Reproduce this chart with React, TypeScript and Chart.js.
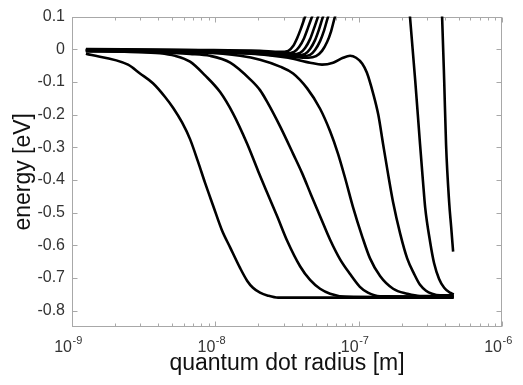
import React, { useEffect, useRef } from "react";
import { Chart, registerables } from "chart.js";

Chart.register(...registerables);

// radius values in nm, energies in eV
const level1Radius = [1.25, 2.46, 2.98, 3.67, 4.46, 5.07, 5.86, 6.66, 7.57, 8.48, 9.64, 11.1, 12.7, 14.9, 16.7, 18.3, 20.5, 23.3, 27.4, 460];
const level1Energy = [-0.014, -0.047, -0.074, -0.104, -0.146, -0.179, -0.224, -0.275, -0.344, -0.409, -0.478, -0.553, -0.607, -0.67, -0.709, -0.73, -0.745, -0.754, -0.76, -0.76];

const level2Radius = [1.25, 2.54, 4.11, 5.23, 6.66, 8.48, 10.8, 13.3, 16.7, 19.9, 23.0, 27.0, 31.7, 39.0, 45.8, 53.8, 63.2, 80.4, 460];
const level2Energy = [-0.005, -0.008, -0.012, -0.02, -0.038, -0.08, -0.131, -0.197, -0.29, -0.373, -0.439, -0.511, -0.586, -0.664, -0.706, -0.733, -0.748, -0.757, -0.759];

const level3Radius = [1.25, 3.5, 6.66, 9.18, 12.7, 17.5, 20.5, 23.0, 28.3, 34.9, 40.3, 46.5, 53.8, 63.2, 74.2, 87.1, 102, 116, 141, 460];
const level3Energy = [-0.003, -0.008, -0.014, -0.02, -0.041, -0.092, -0.125, -0.161, -0.236, -0.32, -0.379, -0.445, -0.511, -0.583, -0.643, -0.688, -0.727, -0.745, -0.756, -0.757];

const level4Radius = [1.25, 3.5, 7.82, 14.9, 20.5, 28.3, 34.9, 43.6, 53.8, 63.2, 71.8, 80.4, 91.4, 106, 120, 141, 174, 218, 268, 460];
const level4Energy = [-0.002, -0.005, -0.009, -0.02, -0.032, -0.053, -0.074, -0.119, -0.182, -0.251, -0.32, -0.394, -0.484, -0.574, -0.64, -0.694, -0.733, -0.748, -0.755, -0.755];

const level5Radius = [1.25, 3.5, 7.82, 18.9, 32.2, 45.8, 55.5, 66.3, 77.8, 87.1, 95.9, 106, 114, 126, 137, 148, 160, 174, 195, 218, 244, 268, 295, 325, 370, 460];
const level5Energy = [-0.002, -0.005, -0.008, -0.014, -0.026, -0.041, -0.047, -0.041, -0.026, -0.02, -0.026, -0.044, -0.071, -0.134, -0.2, -0.29, -0.379, -0.469, -0.565, -0.64, -0.688, -0.721, -0.739, -0.748, -0.753, -0.753];

const level6Radius = [221, 228, 248, 268, 281, 291, 315, 336, 364, 395, 434, 460];
const level6Energy = [0.16, 0.1, -0.095, -0.29, -0.404, -0.484, -0.589, -0.655, -0.703, -0.73, -0.745, -0.751];

const level7Radius = [376, 382, 395, 407, 428, 442, 456];
const level7Energy = [0.16, 0.1, -0.095, -0.29, -0.469, -0.544, -0.619];

const rising1Radius = [1.25, 7.82, 20.5, 28.3, 32.2, 34.9, 37.2, 39.6, 42.3, 44.4];
const rising1Energy = [0.001, -0.002, -0.005, -0.008, -0.005, 0.01, 0.034, 0.064, 0.1, 0.124];
const rising2Radius = [1.25, 7.82, 20.5, 31.1, 35.4, 38.4, 41.6, 44.4, 47.3, 49.6];
const rising2Energy = [0.0, -0.003, -0.008, -0.012, -0.008, 0.007, 0.034, 0.067, 0.1, 0.124];
const rising3Radius = [1.25, 7.82, 20.5, 34.3, 39.0, 42.3, 45.8, 48.8, 52.1, 54.7];
const rising3Energy = [-0.002, -0.005, -0.009, -0.015, -0.011, 0.004, 0.031, 0.064, 0.1, 0.124];
const rising4Radius = [1.25, 7.82, 20.5, 37.2, 42.3, 45.8, 49.6, 52.9, 56.4, 59.2];
const rising4Energy = [-0.003, -0.006, -0.011, -0.018, -0.014, 0.001, 0.028, 0.061, 0.1, 0.124];
const rising5Radius = [1.25, 7.82, 20.5, 40.3, 45.8, 49.6, 53.8, 57.4, 61.2, 64.2];
const rising5Energy = [-0.005, -0.008, -0.012, -0.021, -0.017, -0.002, 0.025, 0.058, 0.1, 0.124];
const rising6Radius = [1.25, 7.82, 20.5, 44.4, 50.4, 55.5, 60.2, 64.2, 68.4, 71.8];
const rising6Energy = [-0.006, -0.009, -0.014, -0.026, -0.021, -0.005, 0.022, 0.055, 0.1, 0.124];

const xTickValues = [1e-9, 1e-8, 1e-7, 1e-6];
const xTickBase = "10";
const xTickExponents = ["-9", "-8", "-7", "-6"];
const yTickValues = [0.1, 0, -0.1, -0.2, -0.3, -0.4, -0.5, -0.6, -0.7, -0.8];
const xTitle = "quantum dot radius [m]";
const yTitle = "energy [eV]";

const seriesList: [number[], number[]][] = [
  [level1Radius, level1Energy],
  [level2Radius, level2Energy],
  [level3Radius, level3Energy],
  [level4Radius, level4Energy],
  [level5Radius, level5Energy],
  [level6Radius, level6Energy],
  [level7Radius, level7Energy],
  [rising1Radius, rising1Energy],
  [rising2Radius, rising2Energy],
  [rising3Radius, rising3Energy],
  [rising4Radius, rising4Energy],
  [rising5Radius, rising5Energy],
  [rising6Radius, rising6Energy],
];

const FONT = "'Liberation Sans', Arial, sans-serif";

const framePlugin = {
  id: "matlabFrame",
  beforeDatasetsDraw(chart: any) {
    const { ctx, chartArea: a, scales } = chart;
    const xs = scales.x;
    const ys = scales.y;
    const L = Math.round(a.left) + 0.5;
    const R = Math.round(a.right) - 0.5;
    const T = Math.round(a.top) + 0.5;
    const B = Math.round(a.bottom) - 0.5;
    ctx.save();
    ctx.strokeStyle = "#a8a8a8";
    ctx.lineWidth = 1;
    ctx.strokeRect(L, T, R - L, B - T);
    ctx.beginPath();
    yTickValues.forEach((v) => {
      const py = Math.round(ys.getPixelForValue(v)) + 0.5;
      ctx.moveTo(L, py);
      ctx.lineTo(L + 5, py);
      ctx.moveTo(R, py);
      ctx.lineTo(R - 5, py);
    });
    for (let d = 0; d < xTickValues.length; d++) {
      const base = xTickValues[d];
      const px = Math.round(xs.getPixelForValue(base)) + 0.5;
      ctx.moveTo(px, B);
      ctx.lineTo(px, B - 5);
      ctx.moveTo(px, T);
      ctx.lineTo(px, T + 5);
      if (d < xTickValues.length - 1) {
        for (let k = 2; k <= 9; k++) {
          const mx = Math.round(xs.getPixelForValue(base * k)) + 0.5;
          ctx.moveTo(mx, B);
          ctx.lineTo(mx, B - 3);
          ctx.moveTo(mx, T);
          ctx.lineTo(mx, T + 3);
        }
      }
    }
    ctx.stroke();

    ctx.fillStyle = "#333333";
    ctx.textBaseline = "alphabetic";
    xTickValues.forEach((v, i) => {
      const px = xs.getPixelForValue(v);
      ctx.font = `16px ${FONT}`;
      ctx.textAlign = "right";
      ctx.fillText(xTickBase, px, 352);
      ctx.font = `11px ${FONT}`;
      ctx.textAlign = "left";
      ctx.fillText(xTickExponents[i], px + 0.5, 344);
    });
    ctx.restore();
  },
};

export default function App() {
  const ref = useRef<HTMLCanvasElement>(null);
  useEffect(() => {
    const canvas = ref.current;
    if (!canvas) return;
    const datasets = seriesList.map(([r, e], i) => ({
      label: `level ${i + 1}`,
      data: r.map((rv, j) => ({ x: rv * 1e-9, y: e[j] })),
      borderColor: "#000000",
      backgroundColor: "#000000",
      borderWidth: 2.6,
      pointRadius: 0,
      fill: false,
      cubicInterpolationMode: "monotone",
      clip: 0,
    }));
    const chart = new Chart(canvas, {
      type: "line",
      data: { datasets },
      plugins: [framePlugin],
      options: {
        responsive: false,
        animation: false,
        devicePixelRatio: 1,
        layout: { padding: { top: 10, right: 21, left: 0, bottom: 0 } },
        plugins: { legend: { display: false }, tooltip: { enabled: false } },
        scales: {
          x: {
            type: "logarithmic",
            min: 1e-9,
            max: 1e-6,
            grid: { display: false, drawTicks: false },
            border: { display: false },
            ticks: { display: false },
            title: {
              display: true,
              text: xTitle,
              color: "#111111",
              font: { family: FONT, size: 23 },
              padding: { top: 0, bottom: 7.7 },
            },
            afterFit: (s: any) => {
              s.height = 58;
            },
          },
          y: {
            type: "linear",
            min: -0.85,
            max: 0.1,
            grid: { display: false, drawTicks: false },
            border: { display: false },
            afterBuildTicks: (s: any) => {
              s.ticks = yTickValues.map((v) => ({ value: v }));
            },
            ticks: {
              color: "#333333",
              padding: 7,
              font: { family: FONT, size: 16 },
              callback: (v: any) => (Math.abs(Number(v)) < 1e-9 ? "0" : Number(v).toFixed(1)),
            },
            title: {
              display: true,
              text: yTitle,
              color: "#111111",
              font: { family: FONT, size: 23 },
              padding: { top: 10.2, bottom: 0 },
            },
            afterFit: (s: any) => {
              s.width = 72;
            },
          },
        },
      },
    } as any);
    return () => chart.destroy();
  }, []);
  return (
    <div style={{ position: "absolute", left: 0, top: 0, width: 523, height: 385, background: "#ffffff" }}>
      <canvas ref={ref} width={523} height={385} style={{ display: "block", width: 523, height: 385 }} />
    </div>
  );
}
